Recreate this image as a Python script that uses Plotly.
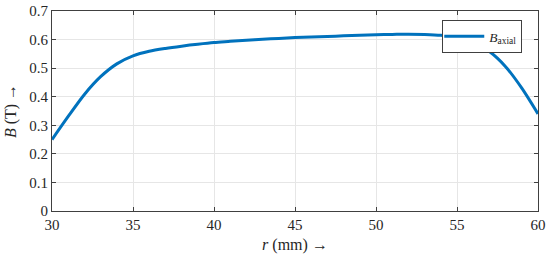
import plotly.graph_objects as go

r_mm = [30, 31, 32, 33, 34, 35, 36, 37, 38, 39, 40, 41, 42, 43, 44, 45,
        46, 47, 48, 49, 50, 51, 52, 53, 54, 55, 56, 57, 58, 59, 60]
B_axial = [0.250, 0.331, 0.408, 0.470, 0.515, 0.543, 0.559, 0.569, 0.577, 0.584,
           0.590, 0.594, 0.598, 0.601, 0.604, 0.607, 0.609, 0.611, 0.613, 0.615,
           0.617, 0.618, 0.619, 0.618, 0.615, 0.607, 0.590, 0.558, 0.505, 0.430, 0.340]

x_ticks = [30, 35, 40, 45, 50, 55, 60]
y_ticks = [0, 0.1, 0.2, 0.3, 0.4, 0.5, 0.6, 0.7]
y_tick_text = ["0", "0.1", "0.2", "0.3", "0.4", "0.5", "0.6", "0.7"]

font_family = "Liberation Serif, DejaVu Serif, serif"
axis_col = "#404040"

fig = go.Figure()
fig.add_trace(go.Scatter(
    x=r_mm, y=B_axial, mode="lines",
    line=dict(color="#0072BD", width=3, shape="spline", smoothing=0.8),
    name="<i>B</i><sub>axial</sub>"))

fig.update_layout(
    width=550, height=257,
    margin=dict(l=52, r=12, t=11, b=46, autoexpand=False),
    paper_bgcolor="white", plot_bgcolor="white",
    font=dict(family=font_family, size=15, color="#262626"),
    showlegend=True,
    legend=dict(x=0.803, y=0.955, xanchor="left", yanchor="top",
                bordercolor=axis_col, borderwidth=1, bgcolor="white",
                font=dict(size=13.5), itemwidth=40,
                indentation=-4, tracegroupgap=0),
    xaxis=dict(range=[30, 60], tickvals=x_ticks, ticks="inside", ticklen=4,
               tickcolor=axis_col, showline=True, linecolor=axis_col, linewidth=1,
               mirror="ticks", showgrid=True, gridcolor="#e6e6e6", zeroline=False,
               automargin=False, ticklabeloverflow="allow",
               title=dict(text="<i>r</i> (mm) →", standoff=6, font=dict(size=16)),
               tickfont=dict(size=15)),
    yaxis=dict(range=[0, 0.7], tickvals=y_ticks, ticktext=y_tick_text, ticks="inside",
               ticklen=4, tickcolor=axis_col, showline=True, linecolor=axis_col,
               linewidth=1, mirror="ticks", showgrid=True, gridcolor="#e6e6e6",
               zeroline=False, automargin=False, ticklabeloverflow="allow",
               title=dict(text="<i>B</i> (T) →", standoff=8, font=dict(size=16)),
               tickfont=dict(size=15)),
)

# remove the default 8px page margin so the figure fills the window exactly
fig.write_html("out.html", config={"displayModeBar": False},
               post_script="document.body.style.margin='0';document.body.style.overflow='hidden';")
